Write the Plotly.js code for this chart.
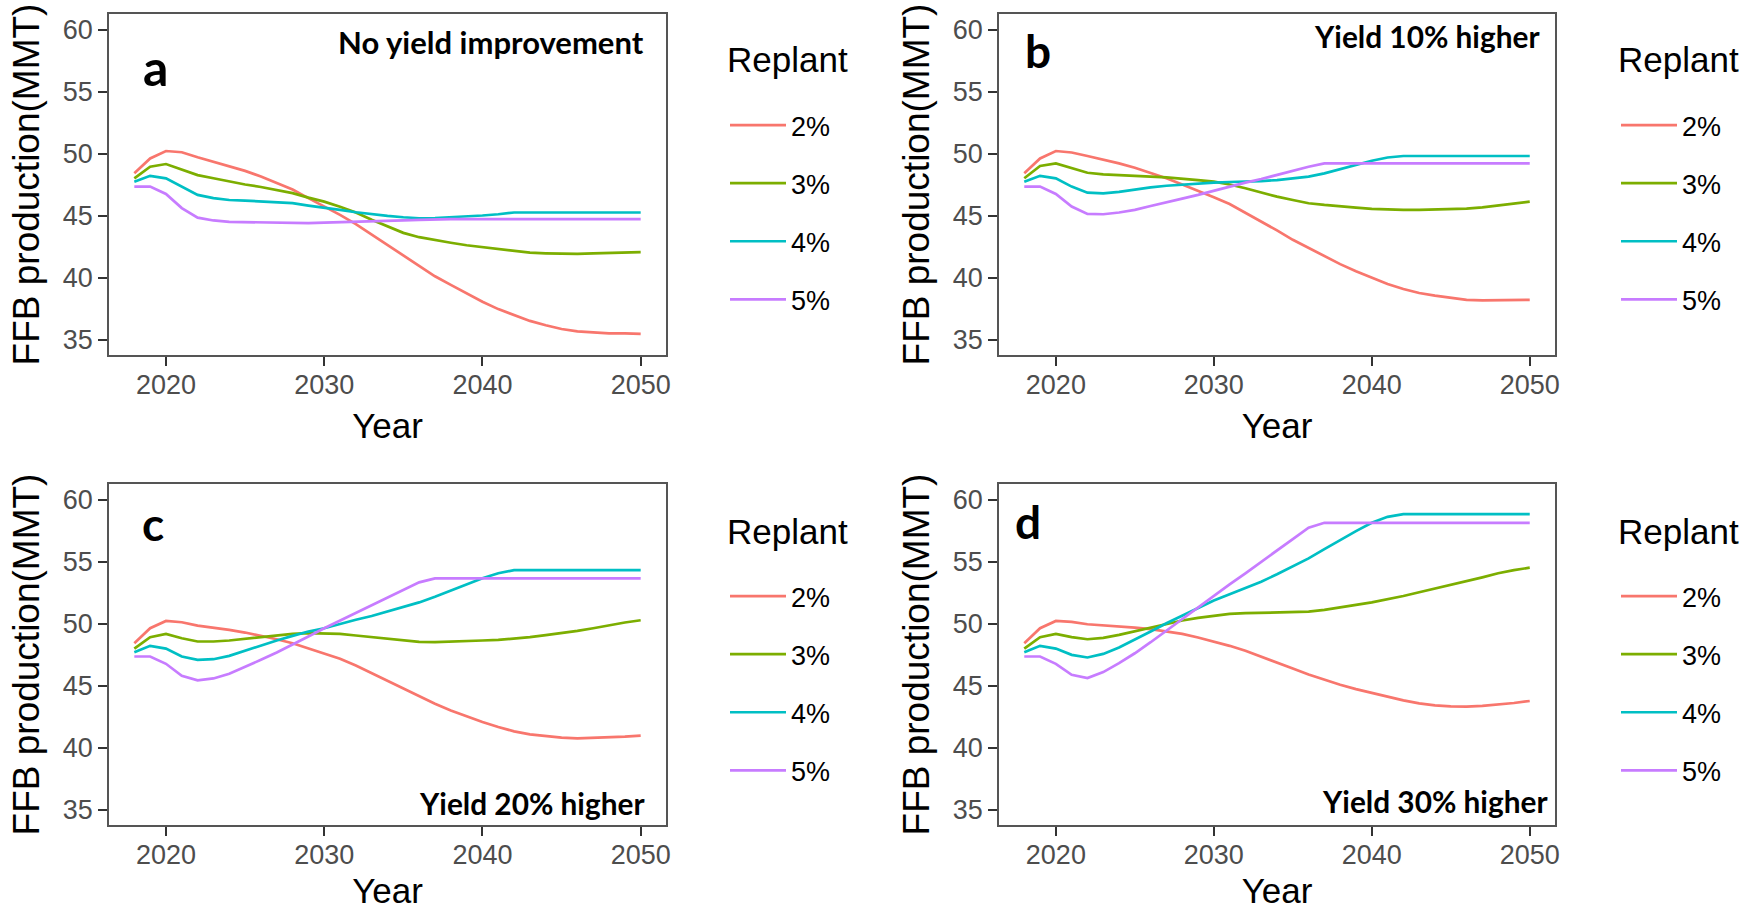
<!DOCTYPE html>
<html>
<head>
<meta charset="utf-8">
<script src="https://cdn.plot.ly/plotly-3.0.1.min.js"></script>
<style>
  html, body { margin: 0; padding: 0; background: #ffffff; }
  #chart { width: 1747px; height: 910px; }
</style>
</head>
<body>
<div id="chart"></div>
<script>
// ---------------- data ----------------
const years = [2018, 2019, 2020, 2021, 2022, 2023, 2024, 2025, 2026, 2027, 2028,
               2029, 2030, 2031, 2032, 2033, 2034, 2035, 2036, 2037, 2038, 2039,
               2040, 2041, 2042, 2043, 2044, 2045, 2046, 2047, 2048, 2049, 2050];

const replantRates = ["2%", "3%", "4%", "5%"];
const legendTitle = "Replant";
const panelLetters = ["a", "b", "c", "d"];
const scenarioLabels = ["No yield improvement", "Yield 10% higher", "Yield 20% higher", "Yield 30% higher"];
const xTickVals = [2020, 2030, 2040, 2050];
const yTickVals = [35, 40, 45, 50, 55, 60];

// (a) No yield improvement
const a_rep2 = [48.4, 49.6, 50.2, 50.1, 49.7, 49.35, 49.0, 48.6, 48.15, 47.65, 47.1,
                46.4, 45.75, 45.05, 44.3, 43.45, 42.6, 41.75, 40.9, 40.1, 39.4, 38.7,
                38.05, 37.45, 36.95, 36.5, 36.15, 35.85, 35.65, 35.55, 35.5, 35.5, 35.45];
const a_rep3 = [48.0, 48.93, 49.15, 48.7, 48.26, 48.0, 47.73, 47.5, 47.3, 47.08, 46.8,
                46.44, 46.12, 45.7, 45.24, 44.65, 44.1, 43.6, 43.25, 43.0, 42.8, 42.6,
                42.45, 42.3, 42.1, 42.0, 41.95, 41.9, 41.9, 41.95, 42.0, 42.05, 42.05];
const a_rep4 = [47.73, 48.2, 48.0, 47.33, 46.66, 46.4, 46.25, 46.2, 46.15, 46.07, 46.0,
                45.8, 45.64, 45.45, 45.26, 45.1, 44.97, 44.86, 44.78, 44.8, 44.85, 44.9,
                45.0, 45.1, 45.24, 45.24, 45.24, 45.24, 45.24, 45.24, 45.24, 45.24, 45.24];
const a_rep5 = [47.33, 47.33, 46.74, 45.6, 44.83, 44.6, 44.49, 44.46, 44.46, 44.43, 44.4,
                44.38, 44.43, 44.46, 44.49, 44.5, 44.54, 44.6, 44.65, 44.7, 44.7, 44.7,
                44.7, 44.7, 44.7, 44.7, 44.7, 44.7, 44.7, 44.7, 44.7, 44.7, 44.7];

// (b) Yield 10% higher
const b_rep2 = [48.4, 49.6, 50.2, 50.08, 49.8, 49.52, 49.2, 48.85, 48.45, 48.0, 47.5,
                47.0, 46.47, 45.93, 45.24, 44.5, 43.8, 43.04, 42.37, 41.7, 41.08, 40.5,
                39.96, 39.47, 39.07, 38.75, 38.54, 38.35, 38.2, 38.16, 38.16, 38.19, 38.2];
const b_rep3 = [48.0, 48.99, 49.2, 48.8, 48.45, 48.32, 48.24, 48.18, 48.13, 48.08, 48.0,
                47.86, 47.73, 47.5, 47.2, 46.84, 46.52, 46.25, 45.99, 45.85, 45.72, 45.64,
                45.53, 45.48, 45.45, 45.45, 45.48, 45.5, 45.56, 45.66, 45.83, 45.99, 46.12];
const b_rep4 = [47.73, 48.2, 48.0, 47.33, 46.84, 46.79, 46.9, 47.1, 47.27, 47.4, 47.5,
                47.6, 47.65, 47.7, 47.73, 47.78, 47.86, 47.97, 48.13, 48.4, 48.75, 49.12,
                49.42, 49.68, 49.8, 49.8, 49.8, 49.8, 49.8, 49.8, 49.8, 49.8, 49.8];
const b_rep5 = [47.33, 47.33, 46.74, 45.72, 45.13, 45.1, 45.24, 45.45, 45.77, 46.09, 46.36,
                46.66, 47.0, 47.35, 47.65, 47.94, 48.29, 48.64, 48.93, 49.2, 49.2, 49.2,
                49.2, 49.2, 49.2, 49.2, 49.2, 49.2, 49.2, 49.2, 49.2, 49.2, 49.2];

// (c) Yield 20% higher
const c_rep2 = [48.41, 49.62, 50.21, 50.1, 49.83, 49.67, 49.48, 49.27, 49.03, 48.73, 48.41,
                48.0, 47.6, 47.15, 46.61, 46.0, 45.38, 44.74, 44.12, 43.53, 42.99, 42.51,
                42.05, 41.65, 41.3, 41.06, 40.9, 40.8, 40.74, 40.77, 40.82, 40.87, 40.95];
const c_rep3 = [47.98, 48.9, 49.16, 48.81, 48.55, 48.55, 48.63, 48.76, 48.92, 49.08, 49.16,
                49.22, 49.22, 49.16, 49.03, 48.9, 48.76, 48.63, 48.52, 48.49, 48.52, 48.57,
                48.63, 48.68, 48.76, 48.9, 49.06, 49.22, 49.4, 49.62, 49.86, 50.08, 50.26];
const c_rep4 = [47.69, 48.2, 47.98, 47.34, 47.07, 47.12, 47.39, 47.82, 48.22, 48.63, 49.0,
                49.35, 49.62, 49.97, 50.3, 50.6, 50.95, 51.3, 51.7, 52.15, 52.65, 53.15,
                53.65, 54.05, 54.3, 54.3, 54.3, 54.3, 54.3, 54.3, 54.3, 54.3, 54.3];
const c_rep5 = [47.34, 47.34, 46.75, 45.78, 45.41, 45.57, 45.94, 46.48, 47.07, 47.66, 48.28,
                48.95, 49.62, 50.24, 50.83, 51.44, 52.09, 52.7, 53.32, 53.64, 53.64, 53.64,
                53.64, 53.64, 53.64, 53.64, 53.64, 53.64, 53.64, 53.64, 53.64, 53.64, 53.64];

// (d) Yield 30% higher
const d_rep2 = [48.41, 49.62, 50.21, 50.13, 49.94, 49.86, 49.78, 49.67, 49.54, 49.38, 49.16,
                48.87, 48.55, 48.2, 47.8, 47.34, 46.86, 46.37, 45.89, 45.46, 45.06, 44.71,
                44.39, 44.07, 43.8, 43.56, 43.4, 43.32, 43.29, 43.35, 43.45, 43.59, 43.75];
const d_rep3 = [47.98, 48.9, 49.16, 48.9, 48.73, 48.84, 49.08, 49.38, 49.67, 49.97, 50.24,
                50.46, 50.64, 50.78, 50.83, 50.86, 50.88, 50.91, 50.96, 51.1, 51.28, 51.5,
                51.71, 51.95, 52.22, 52.52, 52.81, 53.11, 53.41, 53.72, 54.05, 54.31, 54.5];
const d_rep4 = [47.69, 48.2, 47.98, 47.47, 47.26, 47.55, 48.06, 48.68, 49.35, 50.02, 50.64,
                51.28, 51.85, 52.36, 52.84, 53.37, 53.97, 54.58, 55.25, 56.0, 56.73, 57.45,
                58.12, 58.6, 58.82, 58.82, 58.82, 58.82, 58.82, 58.82, 58.82, 58.82, 58.82];
const d_rep5 = [47.34, 47.34, 46.75, 45.86, 45.6, 46.08, 46.8, 47.6, 48.49, 49.43, 50.37,
                51.31, 52.22, 53.16, 54.05, 54.99, 55.92, 56.81, 57.72, 58.12, 58.12, 58.12,
                58.12, 58.12, 58.12, 58.12, 58.12, 58.12, 58.12, 58.12, 58.12, 58.12, 58.12];

const panelSeries = [
  [a_rep2, a_rep3, a_rep4, a_rep5],
  [b_rep2, b_rep3, b_rep4, b_rep5],
  [c_rep2, c_rep3, c_rep4, c_rep5],
  [d_rep2, d_rep3, d_rep4, d_rep5]
];

// ---------------- style ----------------
const W = 1747, H = 910;
const colors = ["#F8766D", "#7CAE00", "#00BFC4", "#C77CFF"];
const sansFont = "Liberation Sans, Arial, Helvetica, sans-serif";
const boldFont = "Lato, Open Sans, sans-serif";

// plot-area boxes in pixels [left, right, top, bottom]
const boxes = [
  [109, 666, 14, 355],
  [999, 1555, 14, 355],
  [109, 666, 484, 825],
  [999, 1555, 484, 825]
];
// legend box top-left (px) and legend title (left px, centre px)
const legendPos = [[725, 101], [1616, 101], [725, 572], [1616, 572]];
const legendTitlePos = [[725, 60], [1616, 60], [725, 531], [1616, 531]];
const letterPos = [[0.084, 0.845], [0.070, 0.894], [0.079, 0.883], [0.052, 0.889]];
const letterSize = [50, 46, 46, 46];
const scenPos = [[0.964, 0.918], [0.977, 0.935], [0.966, 0.062], [0.991, 0.068]];
const scenSize = [31, 29.8, 29.8, 29.8];

const traces = [];
const layout = {
  width: W, height: H,
  margin: {l: 0, r: 0, t: 0, b: 0},
  paper_bgcolor: "#ffffff",
  plot_bgcolor: "#ffffff",
  font: {family: sansFont, color: "#000000"},
  showlegend: true,
  annotations: []
};

for (let p = 0; p < 4; p++) {
  const sfx = p === 0 ? "" : String(p + 1);
  const legendId = "legend" + sfx;
  for (let s = 0; s < 4; s++) {
    traces.push({
      type: "scatter", mode: "lines",
      x: years, y: panelSeries[p][s],
      name: replantRates[s],
      legend: legendId,
      legendgroup: "g" + p + "_" + s,
      xaxis: "x" + sfx, yaxis: "y" + sfx,
      line: {color: colors[s], width: 2.7},
      hoverinfo: "x+y+name"
    });
  }
  const b = boxes[p];
  const axCommon = {
    showgrid: false, zeroline: false,
    showline: true, mirror: true, linecolor: "#555555", linewidth: 1.8,
    ticks: "outside", ticklen: 9, tickwidth: 2, tickcolor: "#333333",
    tickfont: {family: sansFont, size: 27, color: "#4d4d4d"},
    fixedrange: true
  };
  layout["xaxis" + sfx] = Object.assign({}, axCommon, {
    domain: [b[0] / W, b[1] / W],
    anchor: "y" + sfx,
    range: [2016.4, 2051.6],
    tickmode: "array", tickvals: xTickVals,
    ticklabelstandoff: -4,
    title: {text: "Year", font: {family: sansFont, size: 35, color: "#000000"}, standoff: 14}
  });
  layout["yaxis" + sfx] = Object.assign({}, axCommon, {
    domain: [1 - b[3] / H, 1 - b[2] / H],
    anchor: "x" + sfx,
    range: [33.75, 61.25],
    tickmode: "array", tickvals: yTickVals,
    title: {text: "FFB production(MMT)", font: {family: sansFont, size: 37, color: "#000000"}, standoff: 12}
  });
  layout[legendId] = {
    font: {family: sansFont, size: 27, color: "#000000"},
    x: legendPos[p][0] / W, y: 1 - legendPos[p][1] / H,
    xanchor: "left", yanchor: "top",
    xref: "paper", yref: "paper",
    bgcolor: "rgba(0,0,0,0)", borderwidth: 0,
    tracegroupgap: 20,
    itemwidth: 56,
    orientation: "v"
  };
  layout.annotations.push({
    xref: "paper", yref: "paper",
    x: legendTitlePos[p][0] / W, y: 1 - legendTitlePos[p][1] / H,
    xanchor: "left", yanchor: "middle",
    text: legendTitle, showarrow: false,
    font: {family: sansFont, size: 35, color: "#000000"}
  });
  layout.annotations.push({
    xref: "x" + sfx + " domain", yref: "y" + sfx + " domain",
    x: letterPos[p][0], y: letterPos[p][1],
    xanchor: "center", yanchor: "middle",
    text: "<b>" + panelLetters[p] + "</b>", showarrow: false,
    font: {family: boldFont, size: letterSize[p], color: "#000000"}
  });
  layout.annotations.push({
    xref: "x" + sfx + " domain", yref: "y" + sfx + " domain",
    x: scenPos[p][0], y: scenPos[p][1],
    xanchor: "right", yanchor: "middle",
    text: "<b>" + scenarioLabels[p] + "</b>", showarrow: false,
    font: {family: boldFont, size: scenSize[p], color: "#000000"}
  });
}

Plotly.newPlot("chart", traces, layout, {displayModeBar: false, staticPlot: true});
</script>
</body>
</html>
